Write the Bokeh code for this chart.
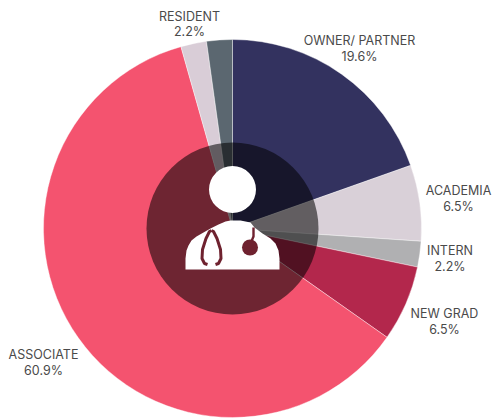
import math
from bokeh.plotting import figure
from bokeh.models import Range1d, ColumnDataSource
from bokeh.core.properties import value
from bokeh.embed import file_html
from bokeh.resources import INLINE

categories = ["OWNER/ PARTNER", "ACADEMIA", "INTERN", "NEW GRAD", "ASSOCIATE", "", "RESIDENT"]
shares = [19.6, 6.5, 2.2, 6.5, 60.9, 2.2, 2.2]
colors = ["#33325f", "#d9d0d8", "#b0b0b2", "#b3274c", "#f4536f", "#d9cdd7", "#5b6770"]
label_x = [359, 458, 449.5, 444, 43, None, 189]
label_y = [40, 190, 250, 313, 354, None, 15.5]

W, H = 492, 418
def Y(py):
    return 418 - py

p = figure(width=W, height=H, x_range=Range1d(0, W), y_range=Range1d(0, H),
           output_backend="svg", toolbar_location=None, min_border=0,
           outline_line_color=None, background_fill_color="white", border_fill_color="white")
p.axis.visible = False
p.grid.visible = False

total = sum(shares)
ends, starts, c = [], [], 0.0
for s in shares:
    starts.append(math.pi / 2 - (c + s) / total * 2 * math.pi)
    c += s
    ends.append(math.pi / 2 - (c - s) / total * 2 * math.pi)

cx, cy, R = 232, Y(228), 189
src = ColumnDataSource(dict(start=starts, end=ends, color=colors))
p.wedge(x=cx, y=cy, radius=R, start_angle="start", end_angle="end", color="color",
        line_color="white", line_width=0.4, source=src)

# dark centre disc
p.scatter(x=[cx], y=[cy], size=172, marker="circle", fill_color="black", fill_alpha=0.55, line_color=None)

# doctor icon
p.scatter(x=[232], y=[Y(189)], size=47, marker="circle", fill_color="white", line_color=None)
bx = [185, 185, 186, 188, 191, 196, 203, 210, 218, 225, 230, 240, 250, 254, 262, 270, 275, 278, 279, 279]
by = [269, 258, 250, 245, 240, 236, 232, 228, 224, 221, 220, 220, 222, 227, 233, 238, 243, 250, 258, 269]
p.patch(x=bx, y=[Y(v) for v in by], fill_color="white", line_color=None)
sx = [207, 204, 201.5, 202, 205.5, 209, 211, 213, 216.5, 220, 220.5, 218, 215]
sy = [264, 263, 258, 249, 238, 231, 230, 231, 238, 249, 258, 263, 264]
p.line(x=sx[:7], y=[Y(v) for v in sy[:7]], line_color="#6f222f", line_width=3)
p.line(x=sx[6:], y=[Y(v) for v in sy[6:]], line_color="#6f222f", line_width=3)
p.line(x=[253, 253, 250], y=[Y(227), Y(236), Y(243)], line_color="#6f222f", line_width=2.4)
p.scatter(x=[249.5], y=[Y(247)], size=16, marker="circle", fill_color="#6f222f", line_color=None)

# labels
for name, share, lx, ly in zip(categories, shares, label_x, label_y):
    if not name:
        continue
    p.text(x=[lx], y=[Y(ly)], text=[name], text_align="center", text_baseline="middle",
           text_font=value("Inter"), text_font_size="12.5px", text_color="#4a4a4a")
    p.text(x=[lx], y=[Y(ly + 15.5)], text=[f"{share}%"], text_align="center", text_baseline="middle",
           text_font=value("Inter"), text_font_size="12.5px", text_color="#4a4a4a")

open("out.html", "w").write(file_html(p, INLINE))
